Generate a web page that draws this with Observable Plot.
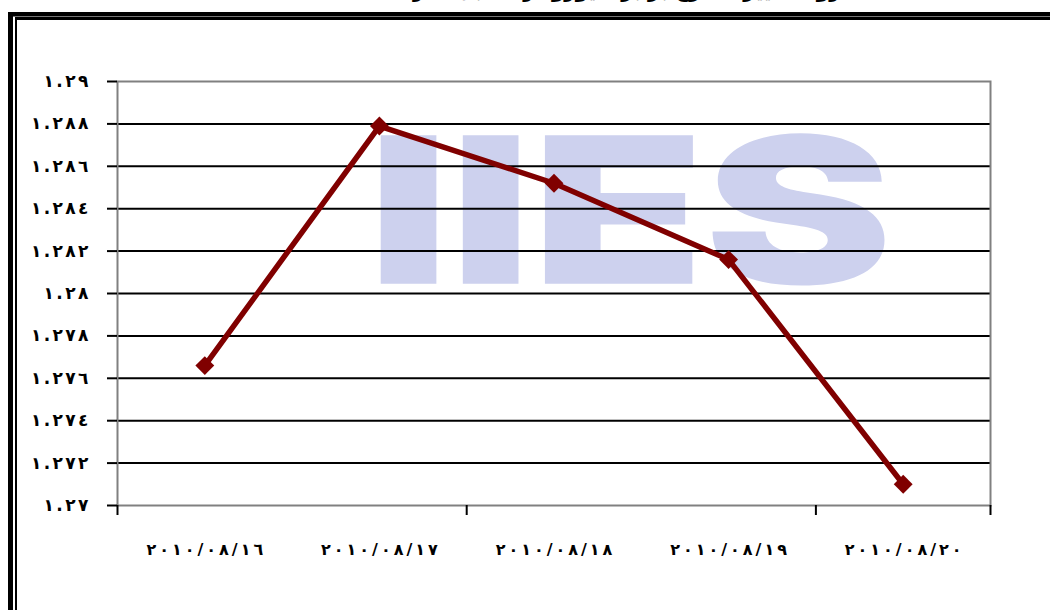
<!DOCTYPE html>
<html><head><meta charset="utf-8">
<script src="https://cdn.jsdelivr.net/npm/d3@7"></script>
<script src="https://cdn.jsdelivr.net/npm/@observablehq/plot@0.6"></script>
<style>
html,body{margin:0;padding:0;background:#fff;}
#wrap{position:relative;width:1050px;height:610px;overflow:hidden;background:#fff;}
#chart{position:absolute;left:0;top:0;}
#title{position:absolute;left:16px;width:1050px;top:-22px;text-align:center;font:bold 20px "DejaVu Sans";direction:rtl;white-space:nowrap;color:#000;}
.b{position:absolute;pointer-events:none;box-sizing:content-box;}
</style></head><body>
<div id="wrap">
<div id="chart"></div>
<div id="title">روند تغییرات نرخ برابری یورو در مقابل دلار طی هفته گذشته</div>
<div class="b" style="left:8px;top:12px;width:1100px;height:700px;border-left:5px solid #000;border-top:4px solid #000;"></div>
<div class="b" style="left:13px;top:16px;width:1100px;height:1px;background:#777;"></div>
<div class="b" style="left:15px;top:17px;width:1100px;height:700px;border-left:2px solid #000;border-top:3px solid #000;"></div>
</div>
<script>
const dates = ["٢٠١٠/٠٨/١٦", "٢٠١٠/٠٨/١٧", "٢٠١٠/٠٨/١٨", "٢٠١٠/٠٨/١٩", "٢٠١٠/٠٨/٢٠"];
const rates = [1.2766, 1.2879, 1.2852, 1.2816, 1.2710];
const yTicks = [1.27, 1.272, 1.274, 1.276, 1.278, 1.28, 1.282, 1.284, 1.286, 1.288, 1.29];
const yTickLabels = ["١.٢٧", "١.٢٧٢", "١.٢٧٤", "١.٢٧٦", "١.٢٧٨", "١.٢٨", "١.٢٨٢", "١.٢٨٤", "١.٢٨٦", "١.٢٨٨", "١.٢٩"];
const xTickMarks = [0, 2, 4, 5]; // category boundaries carrying tick marks
const watermark = ["IIES"];

const data = dates.map((d, i) => ({pos: i + 0.5, date: d, rate: rates[i]}));
const yLabel = v => yTickLabels[yTicks.findIndex(t => Math.abs(t - v) < 1e-9)];

const svg = Plot.plot({
  width: 1050, height: 610,
  marginLeft: 117, marginRight: 60, marginTop: 81, marginBottom: 105,
  style: {fontFamily: "DejaVu Sans", fontSize: "15px", fontWeight: "bold", color: "#000", background: "#fff", overflow: "visible"},
  x: {domain: [0, dates.length], axis: null},
  y: {domain: [yTicks[0], yTicks[yTicks.length - 1]], axis: null},
  marks: [
    Plot.text(watermark, {frameAnchor: "middle", dx: 76, dy: -75, fontSize: 204, fontWeight: 900, fontFamily: "Inter", fill: "#cdd1ee"}),
    Plot.gridY(yTicks.slice(1, -1), {stroke: "#000", strokeOpacity: 1, strokeWidth: 2}),
    Plot.frame({stroke: "#808080", strokeWidth: 2}),
    Plot.axisY({ticks: yTicks, tickFormat: yLabel, tickSize: 10, tickPadding: 19, stroke: "#000", strokeWidth: 2, fontSize: 17, fontWeight: "bold", label: null}),
    Plot.axisX({ticks: xTickMarks, tickFormat: () => "", tickSize: 10, stroke: "#000", strokeWidth: 2, label: null}),
    Plot.axisX({ticks: data.map(d => d.pos), tickFormat: v => dates[Math.floor(v)], tickSize: 0, tickPadding: 38, fontSize: 16, fontWeight: "bold", label: null}),
    Plot.line(data, {x: "pos", y: "rate", stroke: "#800000", strokeWidth: 5.5}),
    Plot.dot(data, {x: "pos", y: "rate", symbol: "diamond2", r: 8.5, fill: "#800000", stroke: "none"})
  ]
});
document.getElementById("chart").appendChild(svg);
const texts = d3.select(svg).selectAll("text");
texts.filter(function() { return this.textContent === "IIES"; })
  .attr("textLength", 525).attr("lengthAdjust", "spacingAndGlyphs");
texts.filter(function() { return this.textContent.includes("/"); })
  .each(function() {
    const w = this.getComputedTextLength();
    d3.select(this).attr("textLength", w * 1.3).attr("lengthAdjust", "spacing");
  });
texts.filter(function() { return yTickLabels.includes(this.textContent); })
  .each(function() {
    const w = this.getComputedTextLength();
    d3.select(this).attr("textLength", w * 1.2).attr("lengthAdjust", "spacing");
  });
</script>
</body></html>
